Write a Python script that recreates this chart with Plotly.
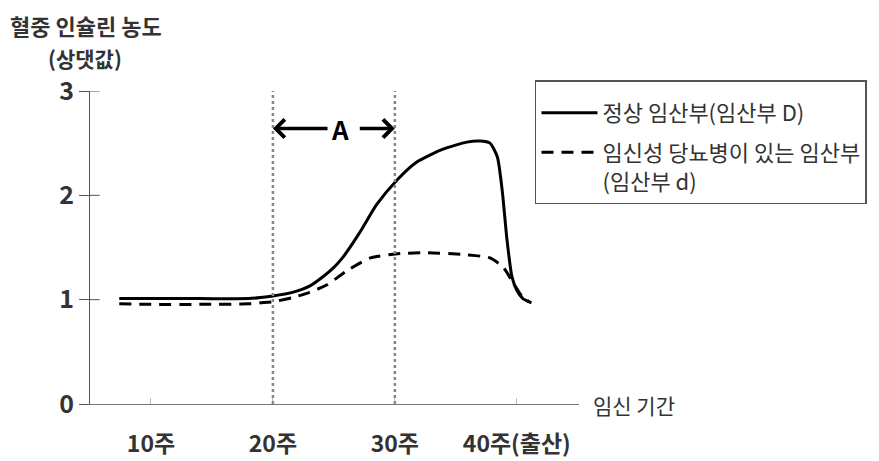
import plotly.graph_objects as go

# Data
weeks_normal = [7.4, 10, 14, 18, 19, 20, 21.6, 23, 24.1, 25, 25.7, 27.1, 28.5, 30.2, 31.8, 33.9, 35.9, 37.0, 37.8, 38.4, 38.8, 39.2, 39.6, 40.0, 40.5, 41.2]
insulin_normal = [1.01, 1.01, 1.01, 1.01, 1.02, 1.035, 1.07, 1.13, 1.22, 1.31, 1.40, 1.64, 1.91, 2.15, 2.32, 2.44, 2.51, 2.52, 2.50, 2.37, 2.05, 1.57, 1.22, 1.09, 1.01, 0.97]

weeks_gdm = [7.4, 10, 14, 18, 19, 20, 21.6, 23, 24.4, 26.1, 28, 30.2, 32.6, 35.9, 37.8, 38.9, 39.7, 40.5, 41.0]
insulin_gdm = [0.96, 0.955, 0.955, 0.96, 0.97, 0.98, 1.02, 1.07, 1.14, 1.28, 1.40, 1.44, 1.45, 1.43, 1.40, 1.31, 1.16, 1.02, 0.98]

x_tickvals = [10, 20, 30, 40]
x_ticktext = ["10주", "20주", "30주", "40주(출산)"]
y_tickvals = [0, 1, 2, 3]
period_A = [20, 30]

FONT = "Noto Sans CJK KR"
TXT = "#333333"

fig = go.Figure()
fig.add_trace(go.Scatter(
    x=weeks_normal, y=insulin_normal, mode="lines",
    name="정상 임산부(임산부 D)", legendgroup="a",
    line=dict(color="black", width=3, shape="spline", smoothing=0.6),
))
fig.add_trace(go.Scatter(
    x=weeks_gdm, y=insulin_gdm, mode="lines",
    name="임신성 당뇨병이 있는 임산부<br>(임산부 d)", legendgroup="b",
    line=dict(color="black", width=3, dash="12px,8px", shape="spline", smoothing=0.6),
))

# inner half of the crossing y ticks
for yv in y_tickvals[1:]:
    fig.add_shape(type="line", xref="x domain", yref="y", x0=0, x1=0.02, y0=yv, y1=yv,
                  line=dict(color="#555555", width=1))

# vertical dotted lines for period A
for xv in period_A:
    fig.add_shape(type="line", xref="x", yref="y", x0=xv, x1=xv, y0=0, y1=3,
                  line=dict(color="#888888", width=2.5, dash="dot"))

# arrows for A
ya = 2.64
fig.add_annotation(x=period_A[0], y=ya, ax=24.6, ay=ya, xref="x", yref="y",
                   axref="x", ayref="y", text="", showarrow=True,
                   arrowhead=4, arrowsize=1, arrowwidth=3.5, arrowcolor="black")
fig.add_annotation(x=period_A[1], y=ya, ax=27.0, ay=ya, xref="x", yref="y",
                   axref="x", ayref="y", text="", showarrow=True,
                   arrowhead=4, arrowsize=1, arrowwidth=3.5, arrowcolor="black")
fig.add_annotation(x=25.5, y=ya, xref="x", yref="y", text="A", showarrow=False,
                   font=dict(family=FONT, size=26, color="black", weight="bold"))

# axis titles as annotations
fig.add_annotation(x=-0.168, y=1.21, xref="paper", yref="paper", xanchor="left", yanchor="middle",
                   text="혈중 인슐린 농도", showarrow=False,
                   font=dict(family=FONT, size=22, color=TXT, weight="bold"))
fig.add_annotation(x=-0.09, y=1.105, xref="paper", yref="paper", xanchor="left", yanchor="middle",
                   text="(상댓값)", showarrow=False,
                   font=dict(family=FONT, size=21, color=TXT, weight="bold"))
fig.add_annotation(x=1.025, y=-0.003, xref="paper", yref="paper", xanchor="left", yanchor="middle",
                   text="임신 기간", showarrow=False,
                   font=dict(family=FONT, size=21, color=TXT))

# page body has an 8px margin, so the figure is drawn 8px smaller and offset
fig.update_layout(
    width=871, height=453,
    margin=dict(l=82, r=300, t=83, b=57, autoexpand=False),
    paper_bgcolor="white", plot_bgcolor="white",
    font=dict(family=FONT, color=TXT),
    showlegend=True,
    legend=dict(x=0.91, y=1.035, xanchor="left", yanchor="top",
                bordercolor="#555555", borderwidth=1.5, bgcolor="white",
                font=dict(family=FONT, size=22, color=TXT),
                title=dict(text=" ", font=dict(size=8)),
                itemwidth=56,
                valign="top", tracegroupgap=8, traceorder="grouped"),
    xaxis=dict(range=[5, 45.1], showgrid=False, zeroline=False,
               showline=True, linecolor="#777777", linewidth=1,
               tickvals=x_tickvals, ticktext=x_ticktext,
               ticks="inside", ticklen=6, tickcolor="#bbbbbb",
               ticklabelstandoff=19, automargin=False,
               tickfont=dict(family=FONT, size=23, color=TXT, weight="bold")),
    yaxis=dict(range=[0, 3], showgrid=False, zeroline=False,
               showline=True, linecolor="#555555", linewidth=1,
               tickvals=y_tickvals, ticks="outside", ticklen=10, tickcolor="#555555",
               automargin=False,
               tickfont=dict(family=FONT, size=25, color=TXT, weight="bold")),
)

fig.write_html("out.html")
